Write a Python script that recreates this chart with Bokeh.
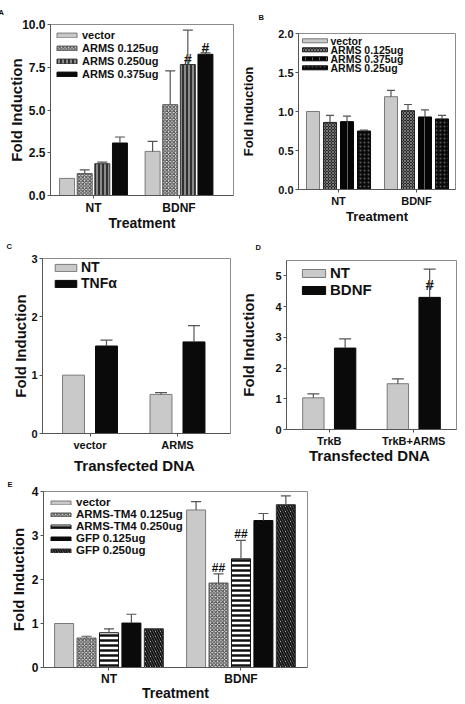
from bokeh.plotting import figure
from bokeh.layouts import row, column
from bokeh.models import (ColumnDataSource, Range1d, FixedTicker, Whisker, TeeHead,
                          Legend, LegendItem, NumeralTickFormatter, Title)
from bokeh.core.properties import value
from bokeh.embed import file_html
from bokeh.resources import INLINE

FONT = "Liberation Sans"

# ---------------- data ----------------
# Panel A
A_groups = ["NT", "BDNF"]
A_series = ["vector", "ARMS 0.125ug", "ARMS 0.250ug", "ARMS 0.375ug"]
A_values = [[1.0, 2.58], [1.28, 5.31], [1.86, 7.66], [3.07, 8.26]]
A_errors = [[0.0, 0.58], [0.22, 1.98], [0.09, 2.01], [0.35, 0.08]]
A_yticks = [0.0, 2.5, 5.0, 7.5, 10.0]
A_mark_group = [1, 1]
A_mark_series = [2, 3]
A_mark_text = ["#", "#"]
A_mark_y = [8.0, 8.6]

# Panel B
B_groups = ["NT", "BDNF"]
B_series = ["vector", "ARMS 0.125ug", "ARMS 0.375ug", "ARMS 0.25ug"]
B_values = [[1.0, 1.19], [0.86, 1.01], [0.87, 0.93], [0.75, 0.905]]
B_errors = [[0.0, 0.08], [0.09, 0.08], [0.07, 0.09], [0.01, 0.045]]
B_yticks = [0.0, 0.5, 1.0, 1.5, 2.0]

# Panel C
C_groups = ["vector", "ARMS"]
C_series = ["NT", "TNFα"]
C_values = [[1.0, 0.67], [1.5, 1.57]]
C_errors = [[0.0, 0.03], [0.1, 0.28]]
C_yticks = [0, 1, 2, 3]

# Panel D
D_groups = ["TrkB", "TrkB+ARMS"]
D_series = ["NT", "BDNF"]
D_values = [[1.03, 1.49], [2.65, 4.3]]
D_errors = [[0.13, 0.16], [0.3, 0.92]]
D_yticks = [0, 1, 2, 3, 4, 5]
D_mark_group = [1]
D_mark_series = [1]
D_mark_text = ["#"]
D_mark_y = [4.72]

# Panel E
E_groups = ["NT", "BDNF"]
E_series = ["vector", "ARMS-TM4 0.125ug", "ARMS-TM4 0.250ug", "GFP 0.125ug", "GFP 0.250ug"]
E_values = [[1.0, 3.58], [0.67, 1.92], [0.79, 2.47], [1.01, 3.34], [0.88, 3.7]]
E_errors = [[0.0, 0.19], [0.04, 0.21], [0.09, 0.42], [0.2, 0.16], [0.0, 0.2]]
E_yticks = [0, 1, 2, 3, 4]
E_mark_group = [1, 1]
E_mark_series = [1, 2]
E_mark_text = ["##", "##"]
E_mark_y = [2.27, 3.04]

# ---------------- styles ----------------
GRAY = dict(fill_color="#c9c9c9", line_color="#7a7a7a")
BLACK = dict(fill_color="#0a0a0a", line_color="#0a0a0a")
CHECK_LIGHT = dict(fill_color="#e2e2e2", line_color="#555555", hatch_pattern="diagonal_cross",
                   hatch_color="#3a3a3a", hatch_scale=3.5, hatch_weight=1)
VSTRIPE = dict(fill_color="#8a8a8a", line_color="#333333", hatch_pattern="vertical_line",
               hatch_color="#111111", hatch_scale=4, hatch_weight=1.5)
CHECK_DARK = dict(fill_color="#2a2a2a", line_color="#222222", hatch_pattern="diagonal_cross",
                  hatch_color="#8a8a8a", hatch_scale=3, hatch_weight=0.8)
BLACK_VLINE = dict(fill_color="#050505", line_color="#050505", hatch_pattern="vertical_line",
                   hatch_color="#7a7a7a", hatch_scale=7, hatch_weight=0.8)
BLACK_DOT = dict(fill_color="#0a0a0a", line_color="#0a0a0a", hatch_pattern="dot",
                 hatch_color="#5a5a5a", hatch_scale=4)
HSTRIPE = dict(fill_color="white", line_color="#111111", hatch_pattern="horizontal_line",
               hatch_color="#111111", hatch_scale=5, hatch_weight=2.5)
DIAG = dict(fill_color="white", line_color="#333333", hatch_pattern="left_diagonal_line",
            hatch_color="#111111", hatch_scale=5, hatch_weight=2)


def bar_panel(cfg):
    g = cfg["geom"]
    xr = g["xr"]
    frame_w = g["w"] - g["left"] - g["right"]
    frame_h = g["h"] - g["top"] - g["bottom"]
    ymax = cfg["ymax"]
    title = Title(text=cfg["letter"], align="left", vertical_align="middle",
                  offset=cfg["letter_dx"] - 5, standoff=max(g["top"] - 11, 0),
                  text_font=FONT, text_font_style="bold", text_font_size="7.5px",
                  text_color="#111111")
    p = figure(width=g["w"], height=g["h"], x_range=Range1d(*xr),
               y_range=Range1d(0, ymax), output_backend="svg", toolbar_location=None,
               title=title,
               min_border_left=g["left"], min_border_right=g["right"],
               min_border_top=g["top"], min_border_bottom=g["bottom"])
    p.frame_align = False
    p.outline_line_color = "#8c8c8c"
    p.xgrid.visible = False
    p.ygrid.visible = False
    groups, series = cfg["groups"], cfg["series"]
    n = len(series)
    items = []
    xpos = []
    for s, name in enumerate(series):
        xs = [gi + (s - (n - 1) / 2) * g["pitch"] for gi in range(len(groups))]
        xpos.append(xs)
        src = ColumnDataSource(dict(x=xs, top=cfg["values"][s]))
        r = p.vbar(x="x", top="top", width=g["bw"], bottom=0, source=src, line_width=1,
                   **cfg["styles"][s])
        items.append(LegendItem(label=name, renderers=[r]))
        ex, lo, up = [], [], []
        for gi, (v, e) in enumerate(zip(cfg["values"][s], cfg["errors"][s])):
            if e > 0:
                ex.append(xs[gi]); lo.append(v); up.append(v + e)
        if ex:
            esrc = ColumnDataSource(dict(x=ex, lower=lo, upper=up))
            p.add_layout(Whisker(base="x", lower="lower", upper="upper", source=esrc,
                                 dimension="height", line_color="#555555", line_width=1.2,
                                 lower_head=None, level="glyph",
                                 upper_head=TeeHead(size=g["cap"], line_color="#555555",
                                                    line_width=1.2)))
    if cfg.get("marks"):
        mg, ms, mt, my = cfg["marks"]
        msrc = ColumnDataSource(dict(x=[xpos[s][gi] for gi, s in zip(mg, ms)], y=my, t=mt))
        p.text(x="x", y="y", text="t", source=msrc, text_align="center",
               text_baseline="middle", text_font=value(FONT), text_font_style="bold",
               text_font_size=cfg["mark_size"], text_color="#111111")

    xa = p.xaxis[0]
    xa.ticker = FixedTicker(ticks=list(range(len(groups))))
    xa.major_label_overrides = {i: gname for i, gname in enumerate(groups)}
    ya = p.yaxis[0]
    ya.ticker = FixedTicker(ticks=cfg["yticks"])
    ya.formatter = NumeralTickFormatter(format=cfg["fmt"])
    for ax in (xa, ya):
        ax.minor_tick_line_color = None
        ax.major_tick_in = 0
        ax.major_tick_out = 3
        ax.axis_line_color = "#555555"
        ax.major_tick_line_color = "#555555"
        ax.major_label_text_font = FONT
        ax.major_label_text_font_style = "bold"
        ax.major_label_text_color = "#111111"
        ax.major_label_standoff = 2
        ax.axis_label_text_font = FONT
        ax.axis_label_text_font_style = "bold"
        ax.axis_label_text_color = "#111111"
    xa.major_label_standoff = g.get("xms", 2)
    xa.axis_label_standoff = g["xls"]
    ya.axis_label_standoff = g["yls"]
    xa.major_label_text_font_size = cfg["tick_size"]
    ya.major_label_text_font_size = cfg["tick_size"]
    xa.axis_label = cfg["xlabel"]
    ya.axis_label = "Fold Induction"
    xa.axis_label_text_font_size = cfg["xlabel_size"]
    ya.axis_label_text_font_size = cfg["ylabel_size"]

    lc = cfg["legend"]
    if lc.get("manual"):
        # compact legend: rows closer together than Bokeh's Legend allows
        px_x = (xr[1] - xr[0]) / frame_w
        px_y = ymax / frame_h
        for s, name in enumerate(series):
            py = lc["row0"] + s * lc["step"]
            yv = ymax - py * px_y
            p.rect(x=[xr[0] + (lc["x0"] + lc["gw"] / 2) * px_x], y=[yv],
                   width=lc["gw"], height=lc["gh"], width_units="screen",
                   height_units="screen", line_width=1, **cfg["styles"][s])
            p.text(x=[xr[0] + (lc["x0"] + lc["gw"] + lc["standoff"]) * px_x], y=[yv],
                   text=[name], text_baseline="middle", text_align="left",
                   text_font=value(FONT), text_font_style="bold",
                   text_font_size=lc["font"], text_color="#111111")
    else:
        lg = Legend(items=items, location=lc["loc"], orientation="vertical",
                    label_text_font=FONT, label_text_font_style="bold",
                    label_text_font_size=lc["font"], label_text_color="#111111",
                    glyph_width=lc["gw"], glyph_height=lc["gh"], label_standoff=lc["standoff"],
                    label_height=lc["lh"], spacing=0, padding=0,
                    margin=lc.get("margin", 0),
                    background_fill_alpha=0, border_line_alpha=0)
        p.add_layout(lg)
    return p


pA = bar_panel(dict(
    letter="A", letter_dx=-47, groups=A_groups, series=A_series,
    values=A_values, errors=A_errors, yticks=A_yticks, ymax=10.0, fmt="0.0",
    styles=[GRAY, CHECK_LIGHT, VSTRIPE, BLACK],
    xlabel="Treatment", tick_size="12px", xlabel_size="14px", ylabel_size="15px",
    marks=(A_mark_group, A_mark_series, A_mark_text, A_mark_y), mark_size="14px",
    geom=dict(w=238, h=233, left=50, right=5, top=24, bottom=38, xls=-3, yls=-6,
              xr=(-0.503, 1.637), pitch=0.206, bw=0.175, cap=10),
    legend=dict(loc="top_left", font="11px", gw=25, gh=6, standoff=3, lh=13, margin=4)))

pB = bar_panel(dict(
    letter="B", letter_dx=-35, groups=B_groups, series=B_series,
    values=B_values, errors=B_errors, yticks=B_yticks, ymax=2.0, fmt="0.0",
    styles=[GRAY, CHECK_DARK, BLACK_VLINE, BLACK_DOT],
    xlabel="Treatment", tick_size="11px", xlabel_size="13px", ylabel_size="13px",
    geom=dict(w=227, h=233, left=60, right=10, top=33, bottom=44, xls=-1, yls=19,
              xr=(-0.513, 1.500), pitch=0.218, bw=0.167, cap=8),
    legend=dict(manual=True, font="10.5px", x0=4, gw=25, gh=4, standoff=3,
                row0=7.3, step=9.0)))

pC = bar_panel(dict(
    letter="C", letter_dx=-31, groups=C_groups, series=C_series,
    values=C_values, errors=C_errors, yticks=C_yticks, ymax=3.0, fmt="0",
    styles=[GRAY, BLACK],
    xlabel="Transfected  DNA", tick_size="11px", xlabel_size="15px", ylabel_size="15px",
    geom=dict(w=237, h=244, left=42, right=7, top=25, bottom=44, xls=3, yls=-1,
              xr=(-0.543, 1.606), pitch=0.377, bw=0.251, cap=12),
    legend=dict(loc=(10, 142), font="14px", gw=27, gh=9, standoff=2, lh=16)))

pD = bar_panel(dict(
    letter="D", letter_dx=-26, groups=D_groups, series=D_series,
    values=D_values, errors=D_errors, yticks=D_yticks, ymax=5.5, fmt="0",
    styles=[GRAY, BLACK],
    xlabel="Transfected  DNA", tick_size="11px", xlabel_size="15px", ylabel_size="15px",
    marks=(D_mark_group, D_mark_series, D_mark_text, D_mark_y), mark_size="15px",
    geom=dict(w=228, h=244, left=48, right=9, top=27, bottom=48, xls=-3, yls=15,
              xr=(-0.506, 1.506), pitch=0.376, bw=0.253, cap=12),
    legend=dict(loc=(13, 131), font="15px", gw=29, gh=10, standoff=2, lh=16)))

pE = bar_panel(dict(
    letter="E", letter_dx=-31, groups=E_groups, series=E_series,
    values=E_values, errors=E_errors, yticks=E_yticks, ymax=4.0, fmt="0",
    styles=[GRAY, CHECK_LIGHT, HSTRIPE, BLACK, DIAG],
    xlabel="Treatment", tick_size="12px", xlabel_size="14px", ylabel_size="15px",
    marks=(E_mark_group, E_mark_series, E_mark_text, E_mark_y), mark_size="12px",
    geom=dict(w=320, h=227, left=43, right=13, top=14, bottom=37, xls=-4, yls=2, xms=1,
              xr=(-0.496, 1.504), pitch=0.170, bw=0.144, cap=10),
    legend=dict(loc="top_left", font="11.5px", gw=25, gh=5, standoff=3, lh=12, margin=5)))

layout = column(row(pA, pB), row(pC, pD), pE)
open("out.html", "w").write(file_html(layout, INLINE))
